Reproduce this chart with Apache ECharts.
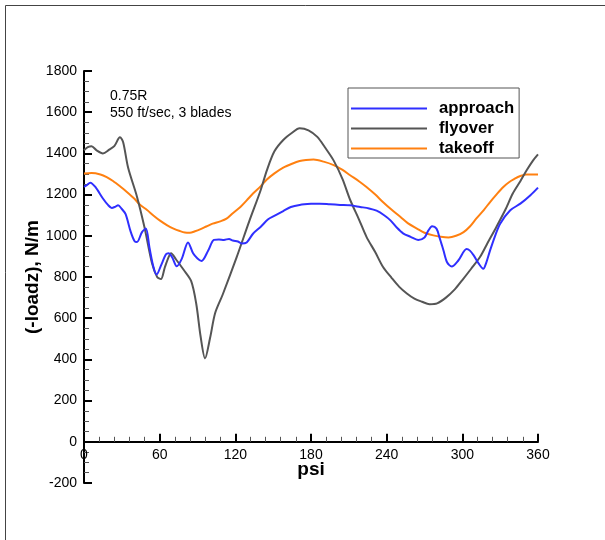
<!DOCTYPE html>
<html>
<head>
<meta charset="utf-8">
<script src="https://cdn.jsdelivr.net/npm/echarts@6/dist/echarts.min.js"></script>
<style>
  html, body { margin: 0; padding: 0; background: #fff; }
  #chart { width: 605px; height: 540px; }
</style>
</head>
<body>
<div id="chart"></div>
<script>
// Spanwise station 0.75R, 550 ft/sec tip speed, 3 blades
const seriesNames = ['approach', 'flyover', 'takeoff'];

const approachPsi = [0, 2, 5, 9, 15, 19, 22, 25, 27, 30, 33, 37, 40, 42, 46, 49, 52, 55, 57.6, 61, 65, 67, 70, 73.5, 77.5, 82.5, 86.5, 90, 93.2, 98.5, 103, 107, 111, 115, 118, 122, 125, 129, 134, 140, 146, 152, 158, 164, 171, 180, 187, 195, 203, 211, 219, 226, 232, 238, 243, 248, 253, 259, 265, 270, 273, 276, 279.5, 282, 285, 288, 291.6, 296.8, 303.4, 306, 309, 313, 316.6, 319, 322, 326, 330, 338, 346, 354, 360];
const approachVal = [1238, 1245, 1258, 1237, 1181, 1150, 1135, 1142, 1148, 1130, 1105, 1020, 975, 970, 1018, 1035, 940, 850, 812, 855, 910, 915, 895, 852, 888, 968, 915, 890, 878, 929, 980, 982, 980, 985, 977, 972, 963, 968, 1010, 1043, 1080, 1100, 1120, 1140, 1150, 1155, 1156, 1153, 1150, 1148, 1140, 1133, 1122, 1100, 1075, 1040, 1012, 995, 980, 992, 1025, 1046, 1035, 990, 930, 870, 851, 880, 936, 928, 905, 865, 840, 870, 929, 1000, 1059, 1124, 1156, 1197, 1234];

const flyoverPsi = [0, 3, 6, 10, 15, 20, 24, 28.5, 31, 35, 42, 48, 54, 58, 61, 64, 67, 69, 73, 79, 85, 89, 92.5, 96, 100, 104, 110, 121, 131, 140, 145, 151, 158, 165, 171, 178, 185, 191, 198, 205, 211, 218, 224, 231, 237, 244, 250, 256, 262, 268, 274, 280, 287, 294, 300, 307, 314, 320, 327, 334, 340, 346, 351, 356, 360];
const flyoverVal = [1415, 1430, 1435, 1415, 1400, 1418, 1435, 1478, 1455, 1330, 1190, 1040, 865, 800, 790, 845, 895, 915, 885, 835, 780, 670, 510, 405, 505, 625, 715, 895, 1070, 1220, 1318, 1410, 1465, 1500, 1522, 1512, 1480, 1430, 1365, 1275, 1175, 1080, 995, 920, 850, 795, 752, 720, 695, 680, 668, 672, 700, 740, 785, 840, 897, 965, 1043, 1125, 1205, 1265, 1318, 1365, 1395];

const takeoffPsi = [0, 6, 13, 18, 23, 29, 34, 40, 44, 50, 55, 60, 66, 71, 76, 80, 84, 88, 92, 97, 102, 108, 113, 118, 124, 129, 134, 140, 145, 151, 158, 165, 171, 176, 182, 190, 198, 205, 211, 218, 224, 231, 237, 244, 251, 257, 264, 270, 277, 283, 289, 295, 301, 306, 311, 317, 322, 327, 332.5, 337, 341, 346, 351, 355, 360];
const takeoffVal = [1302, 1305, 1298, 1285, 1266, 1238, 1213, 1180, 1153, 1125, 1099, 1075, 1051, 1035, 1023, 1016, 1015, 1022, 1031, 1045, 1059, 1070, 1083, 1110, 1140, 1172, 1205, 1240, 1273, 1303, 1331, 1350, 1363, 1368, 1370, 1360, 1343, 1320, 1294, 1265, 1237, 1200, 1164, 1126, 1091, 1060, 1035, 1015, 1002, 995, 992, 1000, 1018, 1045, 1083, 1125, 1164, 1200, 1237, 1260, 1275, 1290, 1297, 1297, 1297];

const psiTicks = [0, 60, 120, 180, 240, 300, 360];
const loadTicks = [-200, 0, 200, 400, 600, 800, 1000, 1200, 1400, 1600, 1800];

const FONT = 'Liberation Sans, Arial, Helvetica, sans-serif';
const colors = ['#2f2fff', '#555555', '#ff8010'];

const GRID = { left: 84, right: 67, top: 71, bottom: 57 };
const CHART_H = 540;

function pairs(xs, ys) { return xs.map((x, i) => [x, ys[i]]); }

// The psi axis crosses the load axis at zero: shift it up from the grid bottom.
const yMin = loadTicks[0];
const yMax = loadTicks[loadTicks.length - 1];
const gridH = CHART_H - GRID.top - GRID.bottom;
const zeroLift = gridH * (0 - yMin) / (yMax - yMin);

const chart = echarts.init(document.getElementById('chart'), null, { renderer: 'canvas' });

chart.setOption({
  animation: false,
  backgroundColor: '#ffffff',
  grid: { left: GRID.left, right: GRID.right, top: GRID.top, bottom: GRID.bottom, containLabel: false },
  xAxis: {
    type: 'value',
    min: psiTicks[0],
    max: psiTicks[psiTicks.length - 1],
    interval: psiTicks[1] - psiTicks[0],
    offset: -zeroLift,
    name: 'psi',
    nameLocation: 'middle',
    nameGap: 18,
    nameMoveOverlap: false,
    nameTextStyle: { fontFamily: FONT, fontSize: 19, fontWeight: 'bold', color: '#000' },
    axisLine: { show: true, onZero: false, lineStyle: { color: '#000', width: 2 } },
    axisTick: { show: true, inside: true, length: 8, lineStyle: { color: '#000', width: 2 } },
    minorTick: { show: true, splitNumber: 5, length: 5, lineStyle: { color: '#555', width: 1 } },
    axisLabel: { show: true, margin: 6, fontFamily: FONT, fontSize: 14, color: '#000', showMinLabel: true, showMaxLabel: true, formatter: v => String(v) },
    splitLine: { show: false }
  },
  yAxis: {
    type: 'value',
    min: yMin,
    max: yMax,
    interval: loadTicks[1] - loadTicks[0],
    name: '(-loadz), N/m',
    nameLocation: 'middle',
    nameGap: 42,
    nameMoveOverlap: false,
    nameTextStyle: { fontFamily: FONT, fontSize: 19, fontWeight: 'bold', color: '#000' },
    axisLine: { show: true, onZero: false, lineStyle: { color: '#000', width: 2 } },
    axisTick: { show: true, inside: true, length: 8, lineStyle: { color: '#000', width: 2 } },
    minorTick: { show: true, splitNumber: 4, length: 5, lineStyle: { color: '#555', width: 1 } },
    axisLabel: { show: true, margin: 7, fontFamily: FONT, fontSize: 14, color: '#000', showMinLabel: true, showMaxLabel: true, formatter: v => String(v) },
    splitLine: { show: false }
  },
  legend: {
    show: true,
    orient: 'vertical',
    left: 348,
    top: 88,
    padding: [12, 5, 1, 3],
    itemGap: 3,
    itemWidth: 76,
    itemHeight: 2,
    icon: 'rect',
    borderColor: '#555',
    borderWidth: 1,
    backgroundColor: '#fff',
    data: seriesNames,
    textStyle: { fontFamily: FONT, fontSize: 16.7, fontWeight: 'bold', color: '#000', padding: [0, 0, 0, 7] }
  },
  graphic: [
    { type: 'line', shape: { x1: 5.5, y1: 5.5, x2: 605, y2: 5.5 }, style: { stroke: '#444', lineWidth: 1 } },
    { type: 'line', shape: { x1: 5.5, y1: 5.5, x2: 5.5, y2: 540 }, style: { stroke: '#444', lineWidth: 1 } },
    {
      type: 'text', left: 110, top: 88,
      style: { text: '0.75R\n550 ft/sec, 3 blades', font: '14px ' + FONT, fill: '#000', lineHeight: 17 }
    }
  ],
  series: [
    { name: 'approach', type: 'line', data: pairs(approachPsi, approachVal), smooth: 0.3, showSymbol: false, symbol: 'none', lineStyle: { color: colors[0], width: 2 }, itemStyle: { color: colors[0] }, z: 3 },
    { name: 'flyover', type: 'line', data: pairs(flyoverPsi, flyoverVal), smooth: 0.3, showSymbol: false, symbol: 'none', lineStyle: { color: colors[1], width: 2 }, itemStyle: { color: colors[1] }, z: 2 },
    { name: 'takeoff', type: 'line', data: pairs(takeoffPsi, takeoffVal), smooth: 0.3, showSymbol: false, symbol: 'none', lineStyle: { color: colors[2], width: 2 }, itemStyle: { color: colors[2] }, z: 1 }
  ]
});
</script>
</body>
</html>
